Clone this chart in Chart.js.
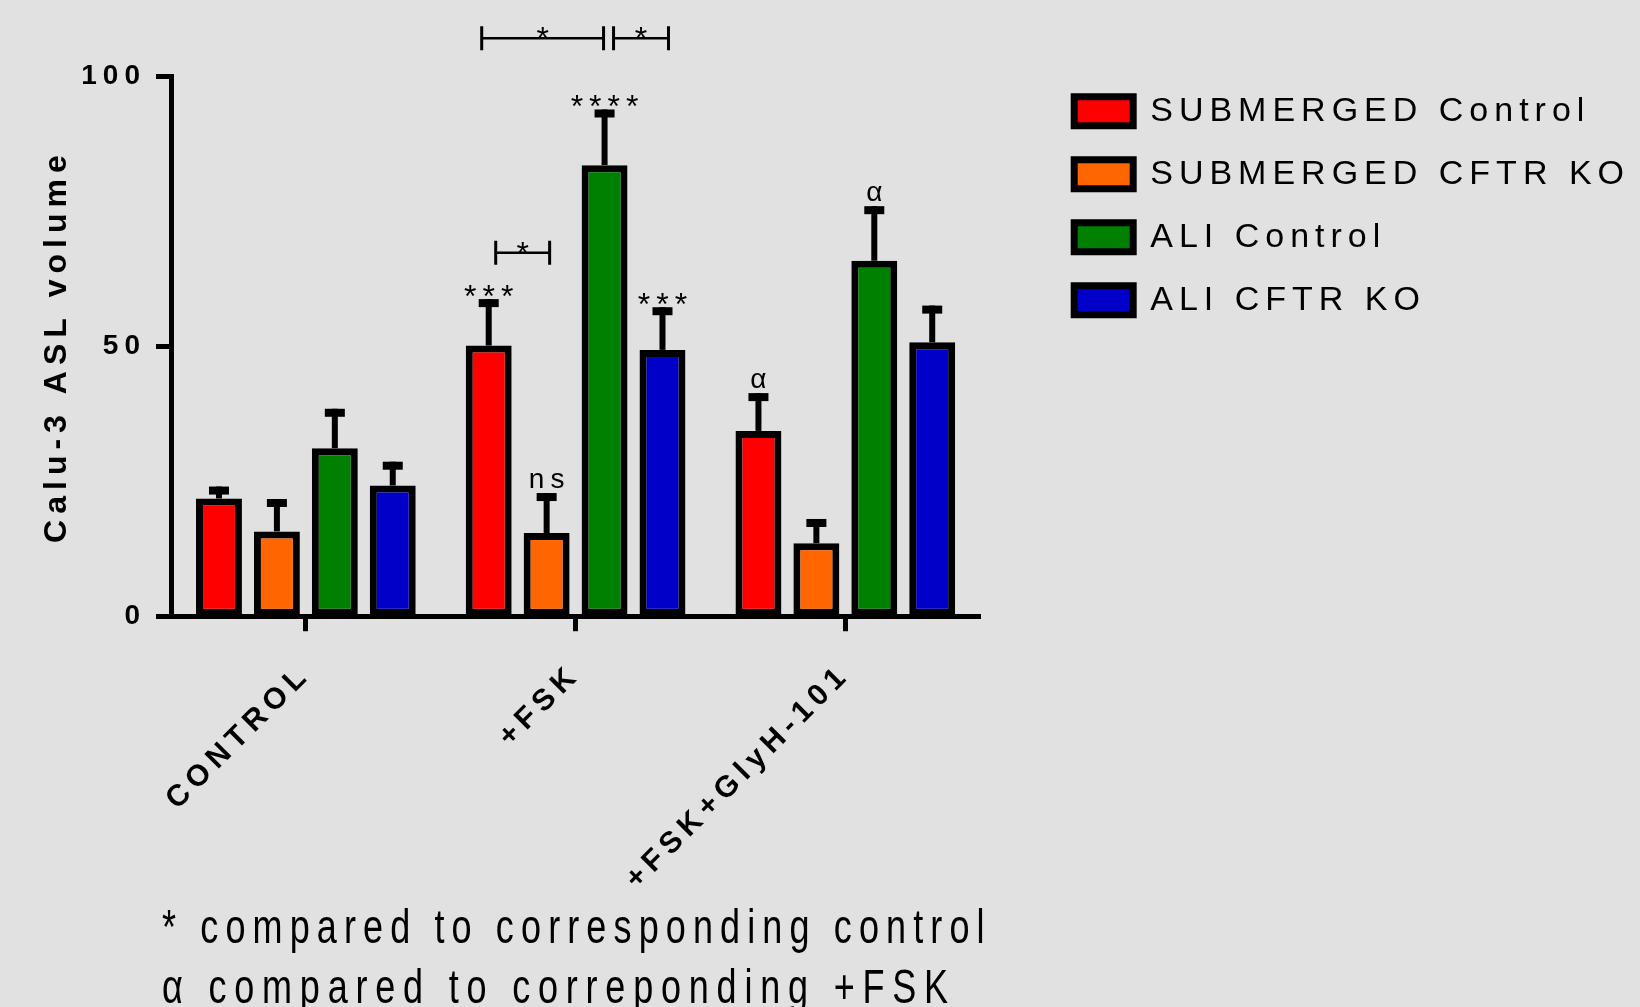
<!DOCTYPE html>
<html>
<head>
<meta charset="utf-8">
<script src="https://cdn.jsdelivr.net/npm/chart.js@4.4.1/dist/chart.umd.min.js"></script>
<style>
  html, body { margin: 0; padding: 0; background: #e1e1e1; }
  canvas { display: block; }
</style>
</head>
<body>
<canvas id="chart" width="1640" height="1007"></canvas>
<script>
// categories and series
const groups = ['CONTROL', '+FSK', '+FSK+GlyH-101'];
const seriesNames = ['SUBMERGED Control', 'SUBMERGED CFTR KO', 'ALI Control', 'ALI CFTR KO'];
const seriesColors = ['#ff0000', '#ff6600', '#008000', '#0000c8'];

// means
const subControl = [21.8, 50.1, 34.3];
const subKO = [15.7, 15.4, 13.5];
const aliControl = [31.1, 83.5, 65.8];
const aliKO = [24.2, 49.3, 50.7];

// error (upper bar only)
const errSubControl = [2.2, 8.6, 7.0];
const errSubKO = [6.0, 7.4, 4.5];
const errAliControl = [7.3, 10.3, 10.1];
const errAliKO = [4.4, 7.9, 6.8];

// significance marks over each bar
const marksSubControl = ['', '***', '\u03b1'];
const marksSubKO = ['', 'ns', ''];
const marksAliControl = ['', '****', '\u03b1'];
const marksAliKO = ['', '***', ''];

// comparison brackets (dataset index from/to inside one group, level in y units)
const brackets = [
    { group: 1, from: 0, to: 2, level: 107, text: '*' },
    { group: 1, from: 2, to: 3, level: 107, text: '*' },
    { group: 1, from: 0, to: 1, level: 67.3, text: '*' }
];

const notes = ['* compared to corresponding control', '\u03b1 compared to correponding +FSK'];

const FONT = '"Liberation Sans", Arial, sans-serif';
Chart.defaults.font.family = FONT;
Chart.defaults.color = '#000';

const spacing = {
    id: 'spacing',
    beforeUpdate(chart) { chart.ctx.letterSpacing = '6px'; },
    beforeLayout(chart) { chart.ctx.letterSpacing = '6px'; },
    beforeDraw(chart) {
        const ctx = chart.ctx;
        ctx.letterSpacing = '6px';
        ctx.save();
        ctx.fillStyle = '#e1e1e1';
        ctx.fillRect(0, 0, chart.width, chart.height);
        ctx.restore();
    }
};

const marks = {
    id: 'marks',
    afterDatasetsDraw(chart) {
        const ctx = chart.ctx;
        const y = chart.scales.y;
        ctx.save();
        ctx.fillStyle = '#000';
        ctx.strokeStyle = '#000';
        ctx.textAlign = 'center';
        ctx.textBaseline = 'alphabetic';

        chart.data.datasets.forEach((ds, i) => {
            chart.getDatasetMeta(i).data.forEach((bar, j) => {
                const top = y.getPixelForValue(ds.data[j] + ds.errors[j]);
                ctx.fillRect(bar.x - 3, top, 6, bar.y - top);
                ctx.fillRect(bar.x - 10, top, 20, 8);
                const m = ds.marks[j];
                if (m) {
                    const star = m[0] === '*';
                    ctx.font = (star ? '32px ' : '28px ') + FONT;
                    ctx.fillText(m, bar.x + 3, star ? top + 8 : top - 5);
                }
            });
        });

        // small hand nudges so bracket ends sit like the original
        const nudge = [[-7, -1], [9, 6], [7, 3]];
        ctx.font = '32px ' + FONT;
        brackets.forEach((b, k) => {
            const x1 = chart.getDatasetMeta(b.from).data[b.group].x + nudge[k][0];
            const x2 = chart.getDatasetMeta(b.to).data[b.group].x + nudge[k][1];
            const yy = y.getPixelForValue(b.level);
            ctx.lineWidth = 2.5;
            ctx.beginPath();
            ctx.moveTo(x1, yy);
            ctx.lineTo(x2, yy);
            ctx.stroke();
            ctx.lineWidth = 3;
            ctx.beginPath();
            ctx.moveTo(x1, yy - 12);
            ctx.lineTo(x1, yy + 12);
            ctx.moveTo(x2, yy - 12);
            ctx.lineTo(x2, yy + 12);
            ctx.stroke();
            ctx.fillText(b.text, (x1 + x2) / 2 + 3, yy + 11);
        });
        ctx.restore();
    },
    afterDraw(chart) {
        const ctx = chart.ctx;
        ctx.save();
        ctx.fillStyle = '#000';
        ctx.font = '48px ' + FONT;
        ctx.textAlign = 'left';
        ctx.textBaseline = 'alphabetic';
        ctx.scale(0.75, 1);
        ctx.letterSpacing = '9.5px';
        ctx.fillText(notes[0], 162 / 0.75, 943);
        ctx.letterSpacing = '10.4px';
        ctx.fillText(notes[1], 162 / 0.75, 1003);
        ctx.restore();
    }
};

const allMeans = [subControl, subKO, aliControl, aliKO];
const allErrs = [errSubControl, errSubKO, errAliControl, errAliKO];
const allMarks = [marksSubControl, marksSubKO, marksAliControl, marksAliKO];

new Chart(document.getElementById('chart'), {
    type: 'bar',
    data: {
        labels: groups,
        datasets: seriesNames.map((name, i) => ({
            label: name,
            data: allMeans[i],
            errors: allErrs[i],
            marks: allMarks[i],
            backgroundColor: seriesColors[i],
            borderColor: '#000',
            borderWidth: 7,
            borderSkipped: false,
            categoryPercentage: 0.859,
            barPercentage: 0.793
        }))
    },
    options: {
        responsive: false,
        animation: false,
        layout: { padding: { top: 76, bottom: 84, left: 0, right: 0 } },
        plugins: {
            tooltip: { enabled: false },
            legend: {
                position: 'right',
                align: 'start',
                maxWidth: 700,
                title: { display: true, text: '', font: { size: 1 }, padding: { top: 0, bottom: -12 } },
                labels: {
                    boxWidth: 59,
                    boxHeight: 29,
                    padding: 29,
                    color: '#000',
                    font: { size: 34 }
                }
            }
        },
        scales: {
            x: {
                offset: true,
                grid: {
                    display: true,
                    offset: false,
                    drawOnChartArea: false,
                    tickLength: 15,
                    tickWidth: 5,
                    tickColor: '#000'
                },
                border: { display: true, width: 5, color: '#000' },
                ticks: {
                    color: '#000',
                    font: { size: 30, weight: 'bold' },
                    minRotation: 45,
                    maxRotation: 45,
                    autoSkip: false,
                    padding: 26
                }
            },
            y: {
                min: 0,
                max: 100,
                ticks: {
                    stepSize: 50,
                    color: '#000',
                    font: { size: 28, weight: 'bold' },
                    padding: 10
                },
                grid: {
                    drawOnChartArea: false,
                    tickLength: 15,
                    tickWidth: 5,
                    tickColor: '#000'
                },
                border: { display: true, width: 5, color: '#000' },
                title: {
                    display: true,
                    text: 'Calu-3 ASL volume',
                    color: '#000',
                    font: { size: 32, weight: 'bold' },
                    padding: { top: 38, bottom: 0 }
                },
                afterFit(s) { s.width = 171; }
            },
            y2: {
                position: 'right',
                display: true,
                grid: { display: false },
                border: { display: false },
                ticks: { display: false },
                afterFit(s) { s.width = 65; }
            }
        }
    },
    plugins: [spacing, marks]
});
</script>
</body>
</html>
